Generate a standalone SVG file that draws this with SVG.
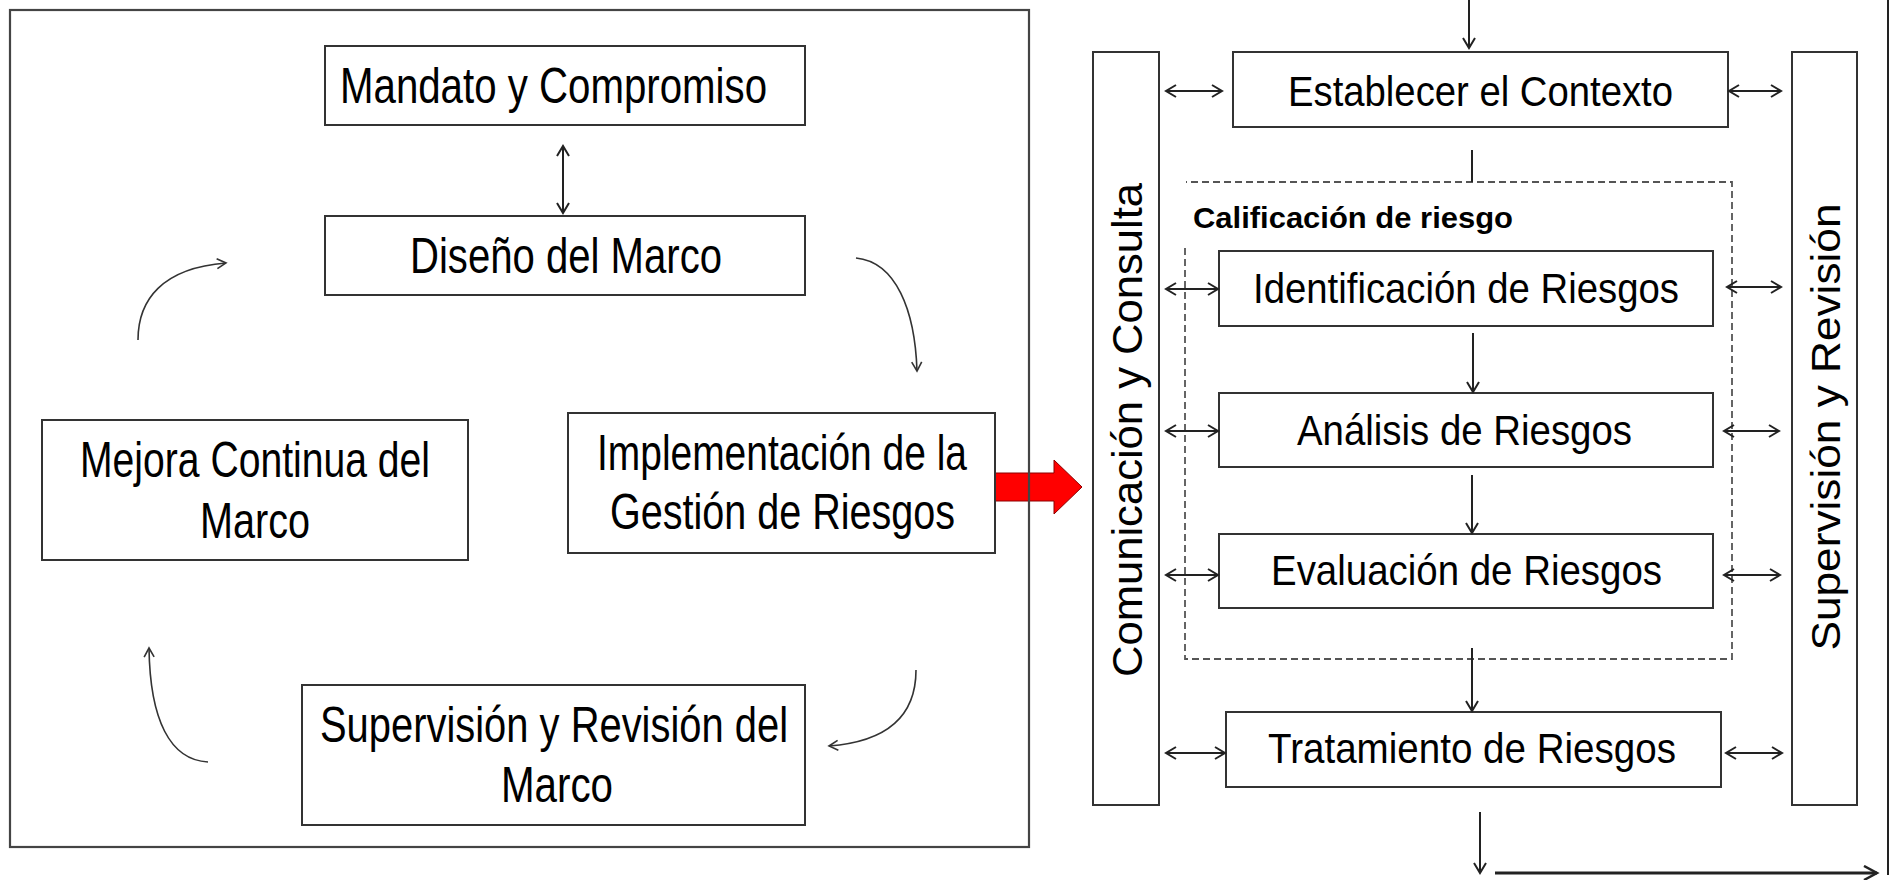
<svg xmlns="http://www.w3.org/2000/svg" width="1891" height="880" viewBox="0 0 1891 880">
<defs>
<style>
.box{fill:#fff;stroke:#333;stroke-width:2}
.frame{fill:none;stroke:#444;stroke-width:2.2}
.t{font-family:"Liberation Sans",Arial,sans-serif;fill:#000}
.tl{font-size:50px}
.tr{font-size:42px}
.curve{fill:none;stroke:#333;stroke-width:1.6;marker-end:url(#ch)}
.a{fill:none;stroke:#222;stroke-width:2}
.dash{fill:none;stroke:#555;stroke-width:1.8;stroke-dasharray:7 4}
</style>
<marker id="ah" markerUnits="userSpaceOnUse" markerWidth="14" markerHeight="16" refX="11" refY="7" orient="auto-start-reverse"><path d="M1,1 L11,7 L1,13" fill="none" stroke="#222" stroke-width="2"/></marker>
<marker id="ch" markerUnits="userSpaceOnUse" markerWidth="13" markerHeight="14" refX="10" refY="6" orient="auto"><path d="M1,1 L10,6 L1,11" fill="none" stroke="#333" stroke-width="1.6"/></marker>
<marker id="bh" markerUnits="userSpaceOnUse" markerWidth="18" markerHeight="18" refX="14" refY="8" orient="auto"><path d="M1,1 L14,8 L1,15" fill="none" stroke="#222" stroke-width="2.5"/></marker>
</defs>
<rect x="0" y="0" width="1891" height="880" fill="#fff"/>

<g id="red-arrow">
<polygon points="995,473 1054,473 1054,460 1082,487 1054,514 1054,501 995,501" fill="#ff0000" stroke="#8b0000" stroke-width="1"/>
</g>

<g id="marco-frame">
<rect class="frame" x="10" y="10" width="1019" height="837"/>
</g>

<g id="mandato">
<rect class="box" x="325" y="46" width="480" height="79"/>
<text class="t tl" x="340" y="103" textLength="427" lengthAdjust="spacingAndGlyphs">Mandato y Compromiso</text>
</g>
<g id="diseno">
<rect class="box" x="325" y="216" width="480" height="79"/>
<text class="t tl" x="410" y="273" textLength="312" lengthAdjust="spacingAndGlyphs">Diseño del Marco</text>
</g>
<g id="mejora">
<rect class="box" x="42" y="420" width="426" height="140"/>
<text class="t tl" x="80" y="477" textLength="350" lengthAdjust="spacingAndGlyphs">Mejora Continua del</text>
<text class="t tl" x="200" y="538" textLength="110" lengthAdjust="spacingAndGlyphs">Marco</text>
</g>
<g id="implementacion">
<rect class="box" x="568" y="413" width="427" height="140"/>
<text class="t tl" x="597" y="470" textLength="370" lengthAdjust="spacingAndGlyphs">Implementación de la</text>
<text class="t tl" x="610" y="529" textLength="345" lengthAdjust="spacingAndGlyphs">Gestión de Riesgos</text>
</g>
<g id="supervision-marco">
<rect class="box" x="302" y="685" width="503" height="140"/>
<text class="t tl" x="320" y="742" textLength="468" lengthAdjust="spacingAndGlyphs">Supervisión y Revisión del</text>
<text class="t tl" x="501" y="802" textLength="112" lengthAdjust="spacingAndGlyphs">Marco</text>
</g>

<g id="comunicacion">
<rect class="box" x="1093" y="52" width="66" height="753"/>
<text class="t" font-size="42" text-anchor="middle" transform="translate(1142,430) rotate(-90)" textLength="494" lengthAdjust="spacingAndGlyphs">Comunicación y Consulta</text>
</g>
<g id="supervision-revision">
<rect class="box" x="1792" y="52" width="65" height="753"/>
<text class="t" font-size="41" text-anchor="middle" transform="translate(1840,427) rotate(-90)" textLength="447" lengthAdjust="spacingAndGlyphs">Supervisión y Revisión</text>
</g>
<g id="establecer">
<rect class="box" x="1233" y="52" width="495" height="75"/>
<text class="t tr" x="1288" y="106" textLength="385" lengthAdjust="spacingAndGlyphs">Establecer el Contexto</text>
</g>
<g id="calificacion">
<path class="dash" d="M1185,248 V659 H1732 V182 H1186"/>
<text class="t" font-size="30" font-weight="bold" x="1193" y="228" textLength="320" lengthAdjust="spacingAndGlyphs">Calificación de riesgo</text>
</g>
<g id="identificacion">
<rect class="box" x="1219" y="251" width="494" height="75"/>
<text class="t tr" x="1253" y="303" textLength="426" lengthAdjust="spacingAndGlyphs">Identificación de Riesgos</text>
</g>
<g id="analisis">
<rect class="box" x="1219" y="393" width="494" height="74"/>
<text class="t tr" x="1297" y="445" textLength="335" lengthAdjust="spacingAndGlyphs">Análisis de Riesgos</text>
</g>
<g id="evaluacion">
<rect class="box" x="1219" y="534" width="494" height="74"/>
<text class="t tr" x="1271" y="585" textLength="391" lengthAdjust="spacingAndGlyphs">Evaluación de Riesgos</text>
</g>
<g id="tratamiento">
<rect class="box" x="1226" y="712" width="495" height="75"/>
<text class="t tr" x="1268" y="763" textLength="408" lengthAdjust="spacingAndGlyphs">Tratamiento de Riesgos</text>
</g>

<g id="connectors">
<line class="a" x1="563" y1="146" x2="563" y2="213" marker-start="url(#ah)" marker-end="url(#ah)"/>
<path class="curve" d="M138,340 C138,300 162,268 226,263"/>
<path class="curve" d="M856,258 C896,262 915,310 917,371"/>
<path class="curve" d="M916,670 C916,720 882,742 829,746"/>
<path class="curve" d="M208,762 C170,760 150,720 149,648"/>

<line class="a" x1="1469" y1="0" x2="1469" y2="48" marker-end="url(#ah)"/>
<line class="a" x1="1472" y1="150" x2="1472" y2="182"/>
<line class="a" x1="1473" y1="333" x2="1473" y2="392" marker-end="url(#ah)"/>
<line class="a" x1="1472" y1="475" x2="1472" y2="533" marker-end="url(#ah)"/>
<line class="a" x1="1472" y1="648" x2="1472" y2="711" marker-end="url(#ah)"/>
<line class="a" x1="1480" y1="812" x2="1480" y2="873" marker-end="url(#ah)"/>
<line fill="none" stroke="#222" stroke-width="3" x1="1495" y1="873" x2="1877" y2="873" marker-end="url(#bh)"/>
<line class="a" x1="1888" y1="0" x2="1888" y2="875"/>

<line class="a" x1="1166" y1="91" x2="1222" y2="91" marker-start="url(#ah)" marker-end="url(#ah)"/>
<line class="a" x1="1729" y1="91" x2="1781" y2="91" marker-start="url(#ah)" marker-end="url(#ah)"/>
<line class="a" x1="1166" y1="289" x2="1218" y2="289" marker-start="url(#ah)" marker-end="url(#ah)"/>
<line class="a" x1="1727" y1="287" x2="1781" y2="287" marker-start="url(#ah)" marker-end="url(#ah)"/>
<line class="a" x1="1166" y1="431" x2="1218" y2="431" marker-start="url(#ah)" marker-end="url(#ah)"/>
<line class="a" x1="1724" y1="431" x2="1779" y2="431" marker-start="url(#ah)" marker-end="url(#ah)"/>
<line class="a" x1="1166" y1="575" x2="1218" y2="575" marker-start="url(#ah)" marker-end="url(#ah)"/>
<line class="a" x1="1724" y1="575" x2="1780" y2="575" marker-start="url(#ah)" marker-end="url(#ah)"/>
<line class="a" x1="1166" y1="753" x2="1225" y2="753" marker-start="url(#ah)" marker-end="url(#ah)"/>
<line class="a" x1="1726" y1="753" x2="1782" y2="753" marker-start="url(#ah)" marker-end="url(#ah)"/>
</g>
</svg>
